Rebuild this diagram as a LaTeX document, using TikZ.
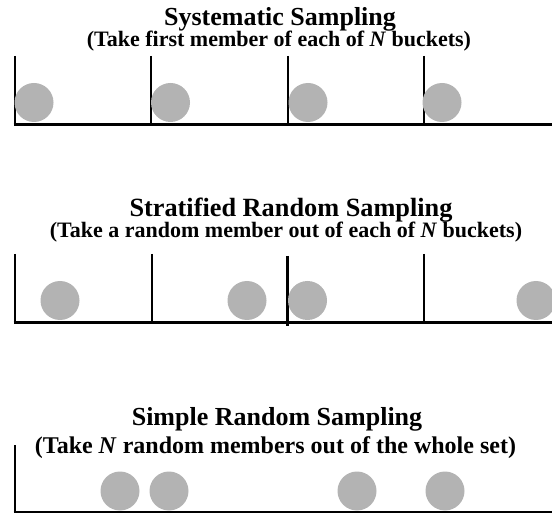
\documentclass[tikz,border=0pt]{standalone}
\usepackage{fontspec}
\setmainfont{Liberation Serif}
\begin{document}
\begin{tikzpicture}[x=1pt,y=-1pt,
  ball/.style={circle,fill=ballgray,draw=none,minimum size=39pt,inner sep=0pt},
  wall/.style={line width=2.8pt,line cap=butt},
  floor/.style={line width=2.6pt},
  heading/.style={anchor=base,font=\fontsize{26}{30}\selectfont\bfseries,inner sep=0pt},
  subheading/.style={anchor=base,font=\fontsize{22}{26}\selectfont\bfseries,inner sep=0pt},
  bigsubheading/.style={subheading,font=\fontsize{24}{28}\selectfont\bfseries}]
\definecolor{ballgray}{HTML}{B3B3B3}
\useasboundingbox (0,0) rectangle (552,513);

% --- Systematic sampling: first member of each bucket ---
\node[heading] (t1) at (280,26) {Systematic Sampling};
\node[subheading] (s1) at (279,47) {(Take first member of each of \emph{N} buckets)};
\foreach \x in {15,151,288,424} \draw[wall] (\x,56) -- (\x,125);
\draw[floor] (13.6,124.5) -- (552,124.5);
\foreach \x/\n in {34/a,170.5/b,308/c,442/d}
  \node[ball] (b1\n) at (\x,102.5) {};

% --- Stratified random sampling: one random member per bucket ---
\node[heading,font=\fontsize{26.3}{30}\selectfont\bfseries] (t2) at (291,217) {Stratified Random Sampling};
\node[subheading] (s2) at (286,238) {(Take a random member out of each of \emph{N} buckets)};
\foreach \x in {15,152,424} \draw[wall] (\x,254) -- (\x,323);
\draw[wall] (287.5,256) -- (287.5,326);
\draw[floor] (13.6,322.5) -- (552,322.5);
\foreach \x/\n in {60/a,247/b,307.5/c,536/d}
  \node[ball] (b2\n) at (\x,300.5) {};

% --- Simple random sampling: N members from the whole set ---
\node[heading] (t3) at (277,425) {Simple Random Sampling};
\node[bigsubheading] (s3) at (275.5,453) {(Take \emph{N} random members out of the whole set)};
\draw[wall] (15,445) -- (15,513);
\draw[floor] (13.6,512.5) -- (552,512.5);
\foreach \x/\n in {120/a,169/b,357/c,445/d}
  \node[ball] (b3\n) at (\x,491) {};
\end{tikzpicture}
\end{document}
